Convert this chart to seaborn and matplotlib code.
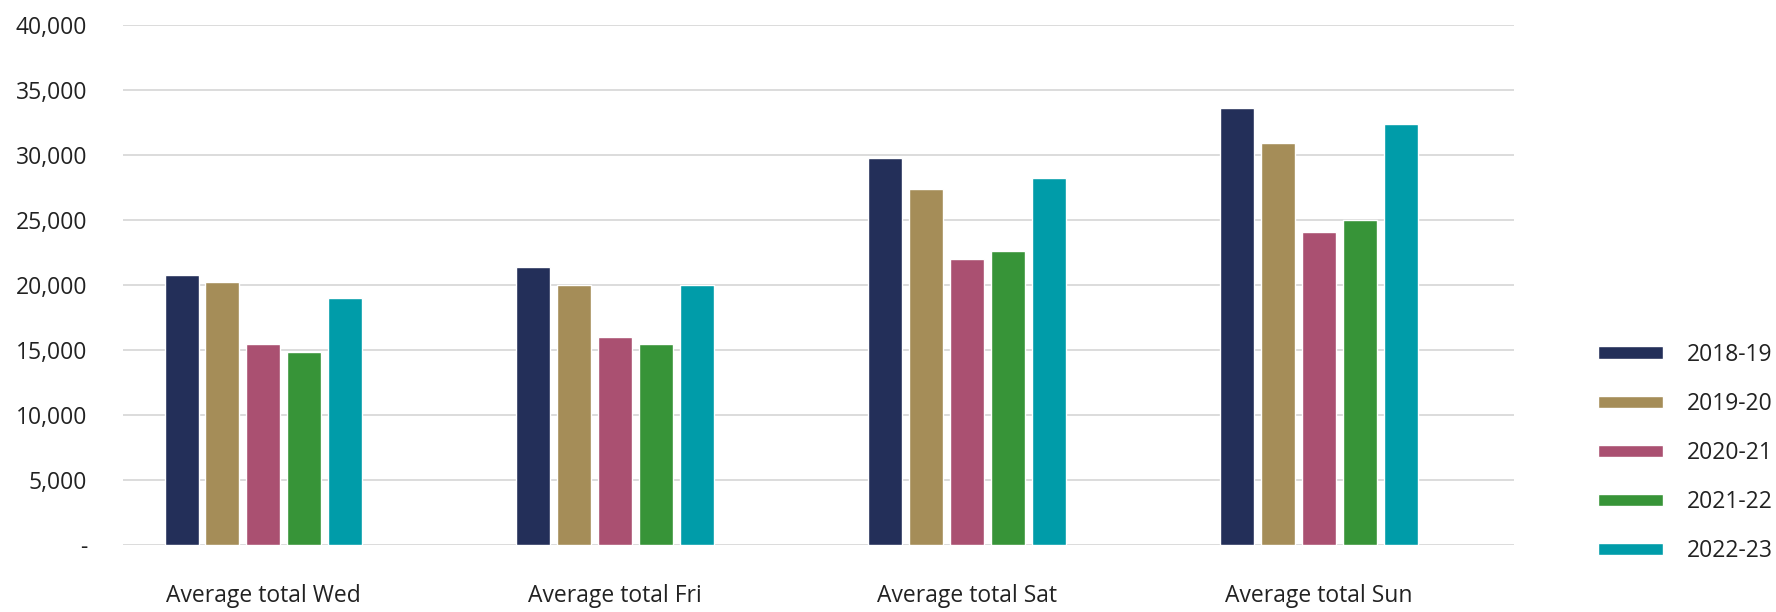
import matplotlib
matplotlib.use("Agg")
import matplotlib.pyplot as plt
import seaborn as sns
import pandas as pd
from matplotlib.ticker import FuncFormatter

days = ["Average total Wed", "Average total Fri", "Average total Sat", "Average total Sun"]
seasons = ["2018-19", "2019-20", "2020-21", "2021-22", "2022-23"]
vals_1819 = [20790, 21400, 29790, 33630]
vals_1920 = [20250, 20000, 27400, 30940]
vals_2021 = [15480, 16020, 22020, 24090]
vals_2122 = [14870, 15480, 22630, 25020]
vals_2223 = [19020, 20000, 28250, 32400]
colors = ["#232F59", "#A58D58", "#AA5071", "#379438", "#009CA9"]

series = [vals_1819, vals_1920, vals_2021, vals_2122, vals_2223]
rows = []
for season, vals in zip(seasons, series):
    for day, v in zip(days, vals):
        rows.append({"day": day, "season": season, "value": v})
df = pd.DataFrame(rows)

sns.set_style("white")
plt.rcParams["font.family"] = ["Open Sans", "DejaVu Sans"]

fig = plt.figure(figsize=(17.76, 6.12), dpi=100)
ax = fig.add_axes([0.0693, 0.109, 0.7832, 0.850])

sns.barplot(data=df, x="day", y="value", hue="season", order=days,
            hue_order=seasons, palette=colors, saturation=1,
            width=0.582, gap=0.17, errorbar=None, ax=ax)

ax.set_ylim(0, 40000)
ax.set_xlim(-0.399, 3.555)
ax.set_yticks(range(0, 40001, 5000))
ax.yaxis.set_major_formatter(FuncFormatter(lambda v, p: "-" if v == 0 else f"{int(v):,}"))
ax.grid(axis="y", color="#D9D9D9", linewidth=1.3)
ax.set_axisbelow(True)
for s in ax.spines.values():
    s.set_visible(False)
ax.tick_params(axis="y", length=0, pad=26, labelsize=16.5, labelcolor="#222222")
ax.tick_params(axis="x", length=0, pad=28, labelsize=16.5, labelcolor="#222222")
ax.set_xlabel("")
ax.set_ylabel("")

ax.legend(loc="center left", bbox_to_anchor=(0.8936, 0.2597),
          bbox_transform=fig.transFigure, frameon=False, borderpad=0,
          fontsize=16.5, handlelength=2.8, handleheight=0.45,
          handletextpad=1.05, labelspacing=1.1, labelcolor="#222222")

fig.savefig("out.png", dpi=100)
